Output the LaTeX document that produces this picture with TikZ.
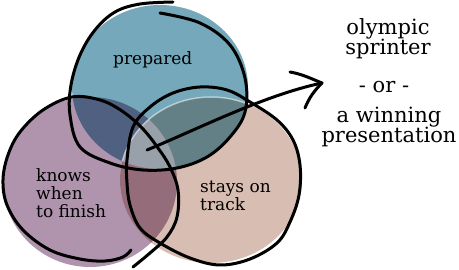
\documentclass[tikz,border=0pt]{standalone}
\usepackage{fontspec}
\setmainfont{DejaVu Serif}
\definecolor{cTeal}{RGB}{116,168,186}
\definecolor{cPurp}{RGB}{176,148,174}
\definecolor{cTan}{RGB}{216,189,178}
\definecolor{cTP}{RGB}{80,96,128}
\definecolor{cTT}{RGB}{99,128,135}
\definecolor{cPT}{RGB}{148,108,122}
\definecolor{cMid}{RGB}{152,160,170}
\tikzset{
  sketch/.style={draw=black,line width=3pt,line cap=round,line join=round},
  lbl/.style={font=\fontsize{17}{18}\selectfont,inner sep=0pt,anchor=base west},
  side/.style={font=\fontsize{21}{20}\selectfont,inner sep=0pt,anchor=base},
}
\begin{document}
\begin{tikzpicture}[x=1pt,y=-1pt]
\useasboundingbox (0,0) rectangle (459,270);
% fills
\fill[cPurp] (90,182) ellipse [x radius=87pt, y radius=85pt];
\fill[cTeal] (160,87) ellipse [x radius=88pt, y radius=82pt];
\fill[cTan] (211,180) ellipse [x radius=91pt, y radius=83pt];
\begin{scope}
  \clip (160,87) ellipse [x radius=88pt, y radius=82pt];
  \fill[cTP] (90,182) ellipse [x radius=87pt, y radius=85pt];
  \fill[cTT] (211,180) ellipse [x radius=91pt, y radius=83pt];
\end{scope}
\begin{scope}
  \clip (90,182) ellipse [x radius=87pt, y radius=85pt];
  \fill[cPT] (211,180) ellipse [x radius=91pt, y radius=83pt];
  \clip (160,87) ellipse [x radius=88pt, y radius=82pt];
  \fill[cMid] (211,180) ellipse [x radius=91pt, y radius=83pt];
\end{scope}
\begin{scope}
  \clip (160,87) ellipse [x radius=88pt, y radius=82pt];
  \draw[white,opacity=0.5,line width=1.5pt] (211,180) ellipse [x radius=91pt, y radius=83pt];
\end{scope}
% outlines
\draw[sketch] plot[smooth,tension=0.6] coordinates {(160,13) (200,23) (230,45) (245,78) (245,112) (230,137) (207,157) (177,168) (143,170) (110,163) (80,147) (70,115) (71,85) (80,55) (95,30) (115,12) (140,4) (173,2)};
\draw[sketch] plot[smooth,tension=0.6] coordinates {(131,250) (123,257) (105,261) (80,259) (50,250) (23,230) (7,205) (3,180) (8,155) (20,132) (43,110) (72,97) (100,100) (122,111) (142,128) (158,148) (170,167) (178,190) (177,217) (167,237) (150,253) (133,267)};
\draw[sketch] plot[smooth cycle,tension=0.6] coordinates {(127,160) (133,127) (150,107) (173,93) (200,87) (227,90) (250,102) (277,120) (293,140) (300,165) (299,195) (290,222) (277,243) (250,259) (220,265) (190,258) (160,243) (140,228) (130,205) (127,183)};
% labels
\node[lbl] (prep) at (113,65) {prepared};
\node[lbl] (k1) at (36,182) {knows};
\node[lbl] (k2) at (36,200) {when};
\node[lbl] (k3) at (36,218) {to finish};
\node[lbl] (s1) at (200,193) {stays on};
\node[lbl] (s2) at (200,211) {track};
\node[side] (r1) at (388,35) {olympic};
\node[side] (r2) at (388,55) {sprinter};
\node[side] (r3) at (384,93) {- or -};
\node[side] (r4) at (389,123) {a winning};
\node[side] (r5) at (389,143) {presentation};
% arrow
\coordinate (astart) at (147,150);
\coordinate (atip) at (322,83);
\draw[sketch] (astart) .. controls (200,128) and (265,95) .. (atip);
\draw[sketch] (atip) ++(-32,-11) .. controls +(12,2) and +(-10,-4) .. (atip) .. controls +(-8,8) and +(4,-10) .. ++(-17,25);
\end{tikzpicture}
\end{document}
